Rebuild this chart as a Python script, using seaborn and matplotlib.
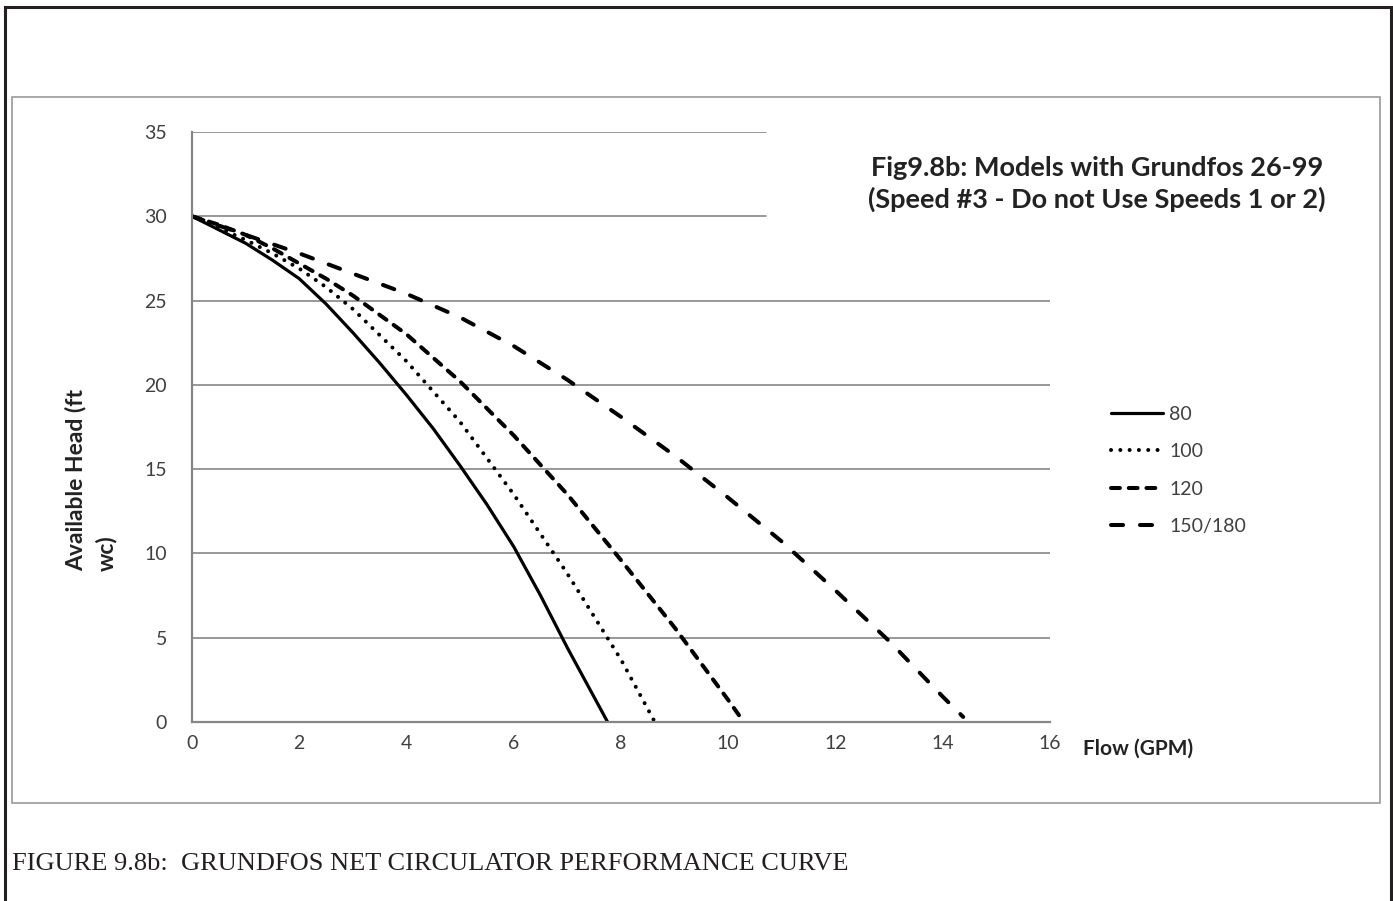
import numpy as np
import pandas as pd
import matplotlib
matplotlib.use("Agg")
import matplotlib.pyplot as plt
import matplotlib.patches as patches
import seaborn as sns

# -------------------------
# Data
# -------------------------
flow_80 = [0, 0.5, 1, 1.5, 2, 2.5, 3, 3.5, 4, 4.5, 5, 5.5, 6, 6.5, 7, 7.75]
head_80 = [30, 29.2, 28.4, 27.4, 26.3, 24.8, 23.1, 21.3, 19.4, 17.4, 15.2, 12.9, 10.4, 7.5, 4.4, 0]

flow_100 = [0, 0.5, 1, 1.5, 2, 2.5, 3, 4, 5, 6, 7, 8, 8.63]
head_100 = [30, 29.3, 28.6, 27.8, 26.9, 25.8, 24.5, 21.4, 17.8, 13.5, 8.8, 3.7, 0]

flow_120 = [0, 0.5, 1, 1.5, 2, 2.5, 3, 4, 5, 6, 7, 8, 9, 10, 10.2]
head_120 = [30, 29.5, 28.9, 28.1, 27.2, 26.3, 25.3, 23.0, 20.2, 17.0, 13.5, 9.6, 5.6, 1.3, 0.4]

flow_150 = [0, 1, 2, 3, 4, 5, 6, 7, 8, 9, 10, 11, 12, 13, 14, 14.38]
head_150 = [30, 28.9, 27.8, 26.6, 25.4, 24.0, 22.3, 20.3, 18.1, 15.8, 13.3, 10.7, 7.8, 4.8, 1.5, 0.3]

series_labels = ["80", "100", "120", "150/180"]
x_ticks = [0, 2, 4, 6, 8, 10, 12, 14, 16]
y_ticks = [0, 5, 10, 15, 20, 25, 30, 35]

title_text = "Fig9.8b: Models with Grundfos 26-99\n(Speed #3 - Do not Use Speeds 1 or 2)"
caption_text = "FIGURE 9.8b:  GRUNDFOS NET CIRCULATOR PERFORMANCE CURVE"

# -------------------------
# Style
# -------------------------
sns.set_style("white")
plt.rcParams['font.family'] = ['Lato', 'DejaVu Sans']

GRAY = "#868686"
TXT = "#404040"

fig = plt.figure(figsize=(13.93, 9.01), dpi=100)
ax = fig.add_axes([0.1378, 0.1987, 0.616, 0.6548])

# -------------------------
# Curves
# -------------------------
styles = [
    dict(lw=2.3, linestyle="-"),
    dict(lw=2.9, linestyle=(0, (0.01, 2.3)), dash_capstyle="round"),
    dict(lw=2.9, linestyle=(0, (2.2, 2.2)), dash_capstyle="round"),
    dict(lw=2.9, linestyle=(0, (3.0, 4.2)), dash_capstyle="round"),
]
data = [(flow_80, head_80), (flow_100, head_100), (flow_120, head_120), (flow_150, head_150)]

lines = []
for (fx, hy), lab, st in zip(data, series_labels, styles):
    df = pd.DataFrame({"flow": fx, "head": hy})
    sns.lineplot(data=df, x="flow", y="head", ax=ax, color="black",
                 sort=False, estimator=None, solid_joinstyle="round", **st)
    lines.append(ax.lines[-1])

# -------------------------
# Grid lines (top two stop short, behind the title box)
# -------------------------
for yv in y_ticks[1:]:
    xmax = 10.7 / 16 if yv >= 30 else 1.0
    ax.axhline(yv, xmin=0, xmax=xmax, color=GRAY, lw=1.2, zorder=0)

# -------------------------
# Axes
# -------------------------
ax.set_xlim(0, 16)
ax.set_ylim(0, 35)
ax.set_xticks(x_ticks)
ax.set_yticks(y_ticks)
ax.set_xticks(np.arange(1, 16, 2), minor=True)
ax.set_yticks([v for v in range(1, 35) if v % 5 != 0], minor=True)
ax.xaxis.set_major_formatter(matplotlib.ticker.FuncFormatter(lambda v, p: "%d" % v))
ax.yaxis.set_major_formatter(matplotlib.ticker.FuncFormatter(lambda v, p: "%d" % v))

for s in ["top", "right"]:
    ax.spines[s].set_visible(False)
for s in ["left", "bottom"]:
    ax.spines[s].set_color(GRAY)
    ax.spines[s].set_linewidth(1.6)

ax.tick_params(axis="x", which="major", direction="inout", length=7, width=1.2,
               color=GRAY, labelsize=14, labelcolor=TXT, pad=6)
ax.tick_params(axis="y", which="major", direction="out", length=5, width=1.2,
               color=GRAY, labelsize=14, labelcolor=TXT, pad=13)
ax.tick_params(which="minor", direction="in", length=3.5, width=1.2, color=GRAY)

ax.set_xlabel("")
ax.set_ylabel("Available Head (ft\nwc)", fontsize=16.5, fontweight="bold",
              color="#222222", multialignment="left", linespacing=1.5)
ax.yaxis.set_label_coords(-0.087, 0.41)

ax.text(1.038, -0.046, "Flow (GPM)", transform=ax.transAxes, fontsize=15,
        fontweight="bold", ha="left", va="center", color="#222222")

fig.text(1097 / 1393, 1 - 184 / 901, title_text, fontsize=19.5, fontweight="bold",
         ha="center", va="center", linespacing=1.28, color="#222222")

# -------------------------
# Legend
# -------------------------
leg = fig.legend(lines, series_labels, loc="upper left",
                 bbox_to_anchor=(1103 / 1393, 1 - 398 / 901), frameon=False,
                 fontsize=14, handlelength=2.7, handletextpad=0.3,
                 labelspacing=1.05, borderaxespad=0)
for t in leg.get_texts():
    t.set_color(TXT)

# -------------------------
# Frames and caption
# -------------------------
fig.patches.append(patches.Rectangle((4.5 / 1393, -0.02), (1391 - 4.5) / 1393, 1.02 - 6.5 / 901,
                                     transform=fig.transFigure, fill=False,
                                     edgecolor="#231f20", lw=2.2))
fig.patches.append(patches.Rectangle((12 / 1393, 1 - 803 / 901), (1380 - 12) / 1393, (803 - 97) / 901,
                                     transform=fig.transFigure, fill=False,
                                     edgecolor="#9a9a9a", lw=1.2))

fig.text(12 / 1393, 1 - 864 / 901, caption_text, fontsize=19,
         family=['Liberation Serif', 'DejaVu Serif'], ha="left", va="center", color="#231f20")

plt.savefig("out.png", dpi=100)
